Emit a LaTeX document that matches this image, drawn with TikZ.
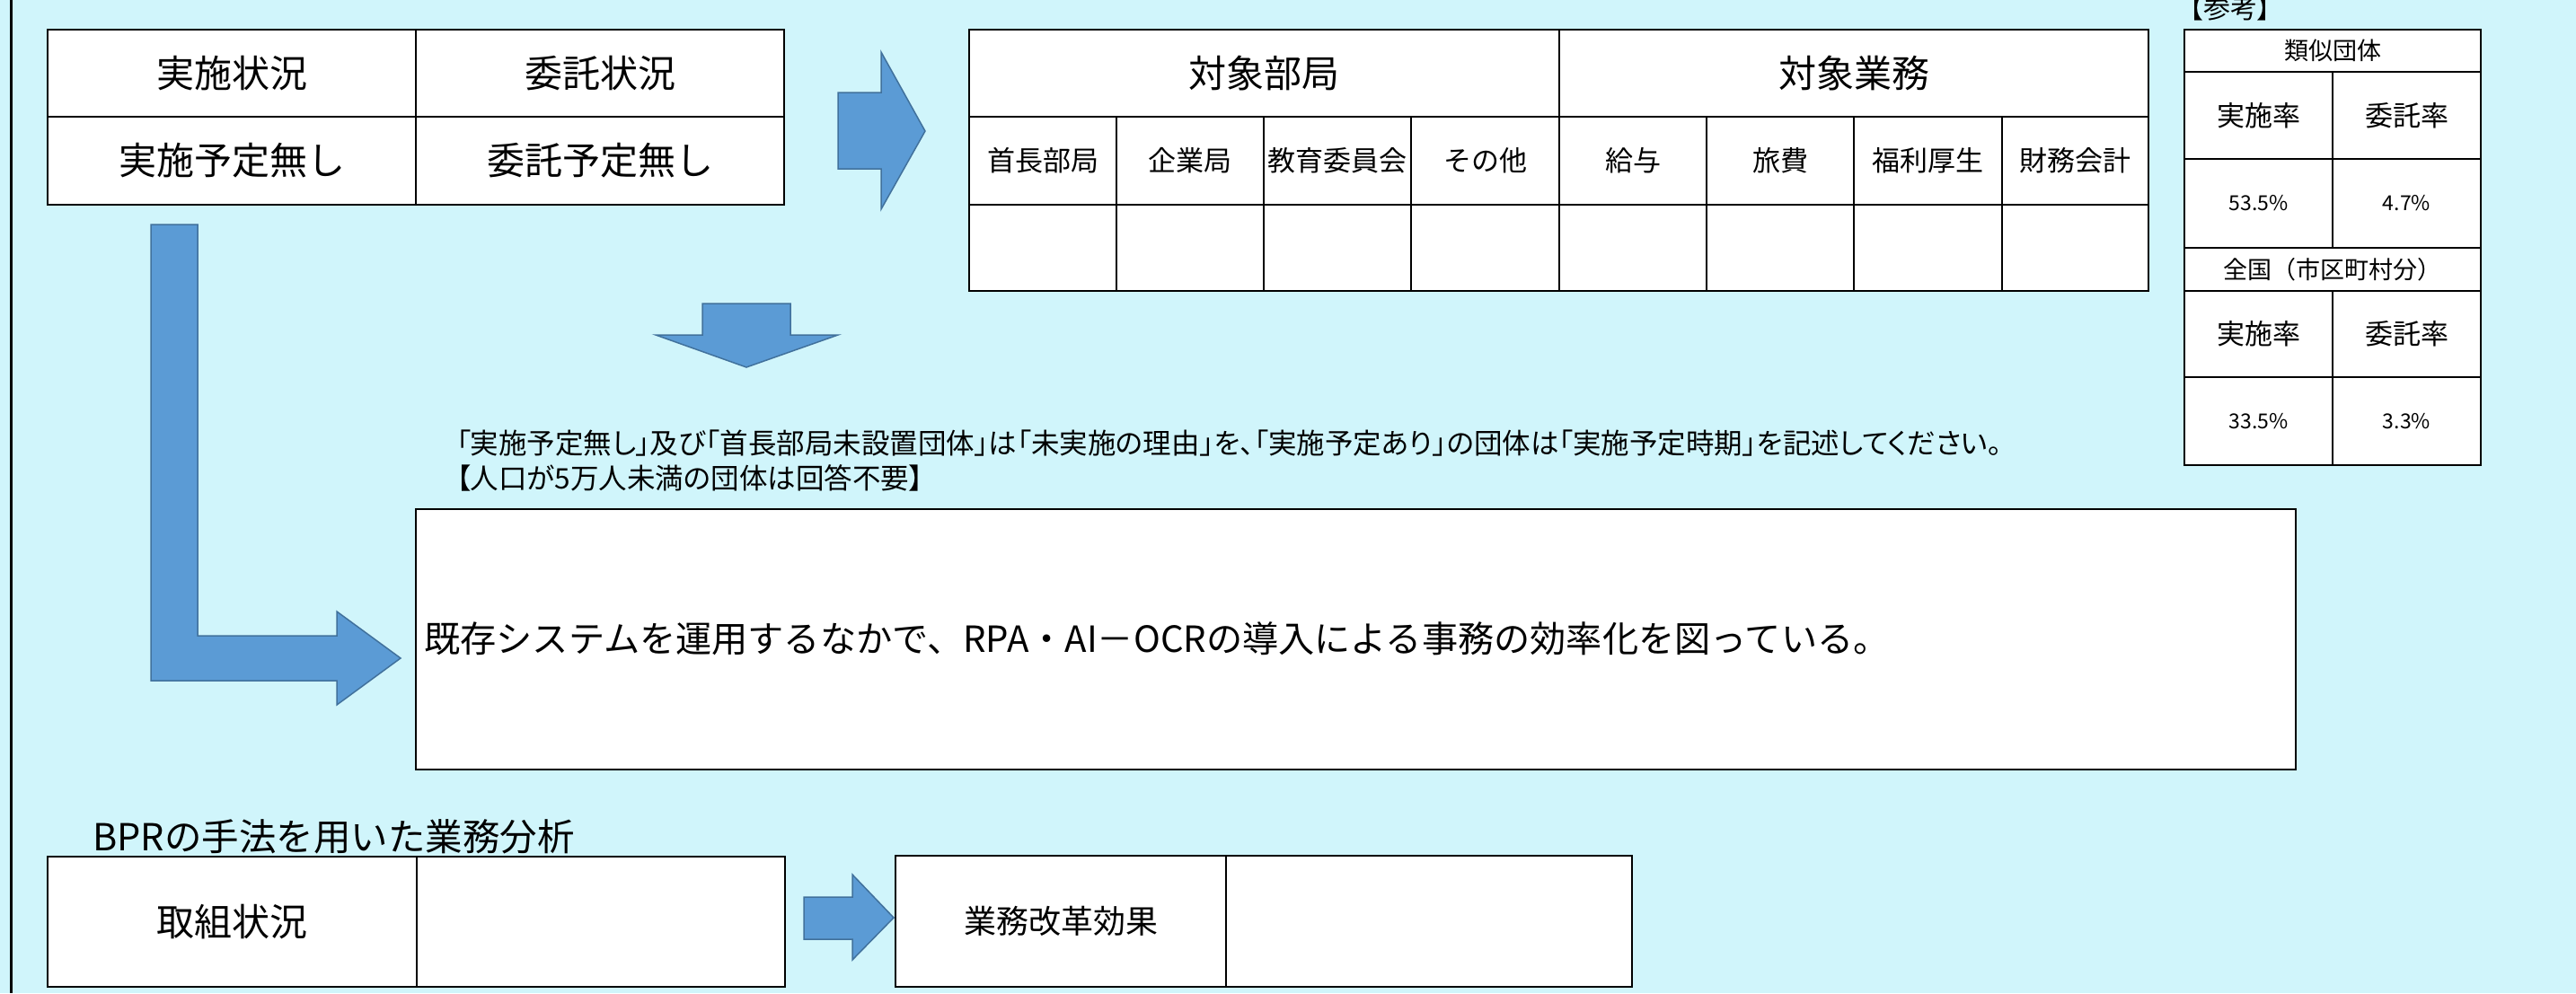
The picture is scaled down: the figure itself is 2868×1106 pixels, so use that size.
\documentclass[tikz,border=0pt]{standalone}
\usepackage{fontspec}
\setmainfont{Noto Sans CJK JP}
\newfontfamily\pfont{Noto Sans CJK JP}[RawFeature={+palt}]
\definecolor{bgc}{RGB}{208,245,251}
\definecolor{arrfill}{RGB}{91,155,213}
\definecolor{arrline}{RGB}{65,113,156}
\tikzset{
  cell/.style={draw=black, line width=2.5pt, fill=white, inner sep=0pt},
  blockarrow/.style={fill=arrfill, draw=arrline, line width=1.5pt, line join=miter},
  txt/.style={inner sep=0pt, text=black},
  fA/.style={font=\fontsize{42}{50}\selectfont},
  fBig/.style={font=\fontsize{40.2}{48}\selectfont},
  fB/.style={font=\fontsize{31}{37}\selectfont},
  fC/.style={font=\fontsize{30}{36}\selectfont\pfont},
  fN/.style={font=\fontsize{31.5}{38}\selectfont\pfont},
  fD/.style={font=\fontsize{27}{32}\selectfont},
  fE/.style={font=\fontsize{23}{28}\selectfont},
  fF/.style={font=\fontsize{36}{43}\selectfont},
  fG/.style={font=\fontsize{41.5}{50}\selectfont},
}
% #1 style, #2 name, #3 x1, #4 y1, #5 x2, #6 y2, #7 text
\newcommand{\cellbox}[7][]{%
  \node[cell,#1,minimum width={(#5-#3)*1pt},minimum height={(#6-#4)*1pt}] (#2) at ({(#3+#5)/2},{(#4+#6)/2}) {#7};}
\begin{document}
\begin{tikzpicture}[x=1pt,y=-1pt]
\useasboundingbox (0,0) rectangle (2868,1106);
\clip (0,0) rectangle (2868,1106);
\fill[bgc] (0,0) rectangle (2868,1106);
\draw[line width=3pt] (12,0) -- (12,1106);

% top-left table
\cellbox[fA]{jA}{53}{33}{463}{130}{実施状況}
\cellbox[fA]{jB}{463}{33}{873}{130}{委託状況}
\cellbox[fA]{jC}{53}{130}{463}{228}{実施予定無し}
\cellbox[fA]{jD}{463}{130}{873}{228}{委託予定無し}

% target table
\cellbox[fA]{tA}{1079}{33}{1736}{130}{対象部局}
\cellbox[fA]{tB}{1736}{33}{2392}{130}{対象業務}
\cellbox[fB]{s1}{1079}{130}{1243}{228}{首長部局}
\cellbox[fB]{s2}{1243}{130}{1407}{228}{企業局}
\cellbox[fB]{s3}{1407}{130}{1571}{228}{教育委員会}
\cellbox[fB]{s4}{1571}{130}{1736}{228}{その他}
\cellbox[fB]{s5}{1736}{130}{1900}{228}{給与}
\cellbox[fB]{s6}{1900}{130}{2064}{228}{旅費}
\cellbox[fB]{s7}{2064}{130}{2229}{228}{福利厚生}
\cellbox[fB]{s8}{2229}{130}{2392}{228}{財務会計}
\cellbox{v1}{1079}{228}{1243}{324}{}
\cellbox{v2}{1243}{228}{1407}{324}{}
\cellbox{v3}{1407}{228}{1571}{324}{}
\cellbox{v4}{1571}{228}{1736}{324}{}
\cellbox{v5}{1736}{228}{1900}{324}{}
\cellbox{v6}{1900}{228}{2064}{324}{}
\cellbox{v7}{2064}{228}{2229}{324}{}
\cellbox{v8}{2229}{228}{2392}{324}{}

% reference table
\node[txt,fC,anchor=west] (sanko) at (2438,9) {【参考】};
\cellbox[fD]{rA}{2432}{33}{2762}{80}{類似団体}
\cellbox[fB]{rB}{2432}{80}{2597}{177}{実施率}
\cellbox[fB]{rC}{2597}{80}{2762}{177}{委託率}
\cellbox[fE]{rD}{2432}{177}{2597}{276}{53.5\%}
\cellbox[fE]{rE}{2597}{177}{2762}{276}{4.7\%}
\cellbox[fD]{rF}{2432}{276}{2762}{324}{全国（市区町村分）}
\cellbox[fB]{rG}{2432}{324}{2597}{420}{実施率}
\cellbox[fB]{rH}{2597}{324}{2762}{420}{委託率}
\cellbox[fE]{rI}{2432}{420}{2597}{518}{33.5\%}
\cellbox[fE]{rJ}{2597}{420}{2762}{518}{3.3\%}

% notes
\node[txt,fN,anchor=west] (note1) at (508,494) {「実施予定無し」及び「首長部局未設置団体」は「未実施の理由」を、「実施予定あり」の団体は「実施予定時期」を記述してください。};
\node[txt,fN,anchor=west] (note2) at (508,532) {【人口が5万人未満の団体は回答不要】};

% big answer box
\cellbox{big}{463}{567}{2556}{857}{}
\node[txt,fBig,anchor=west] (bigtext) at (472,711) {既存システムを運用するなかで、RPA・AI－OCRの導入による事務の効率化を図っている。};

% BPR section
\node[txt,fG,anchor=west] (bpr) at (103,932) {BPRの手法を用いた業務分析};
\cellbox[fA]{bA}{53}{954}{464}{1099}{取組状況}
\cellbox{bB}{464}{954}{874}{1099}{}
\cellbox[fF]{bC}{997}{953}{1365}{1099}{業務改革効果}
\cellbox{bD}{1365}{953}{1817}{1099}{}

% block arrows
\draw[blockarrow] (933,103) -- (981,103) -- (981,58) -- (1030,146) -- (981,233) -- (981,188) -- (933,188) -- cycle;
\draw[blockarrow] (782,338) -- (880,338) -- (880,373) -- (933,373) -- (831,409) -- (730,373) -- (782,373) -- cycle;
\draw[blockarrow] (168,250) -- (220,250) -- (220,708) -- (375,708) -- (375,681) -- (446,733) -- (375,785) -- (375,758) -- (168,758) -- cycle;
\draw[blockarrow] (895,999) -- (949,999) -- (949,974) -- (995,1022) -- (949,1069) -- (949,1046) -- (895,1046) -- cycle;
\end{tikzpicture}
\end{document}
